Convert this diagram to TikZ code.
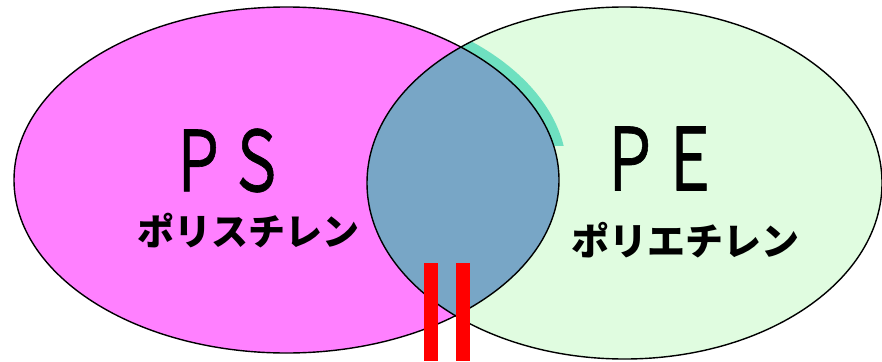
\documentclass[tikz,border=0pt]{standalone}
\usepackage{fontspec}
\newfontfamily\jp{Noto Sans CJK JP}
\newfontfamily\jpm{Noto Sans CJK JP}[FakeBold=0.8]
\definecolor{psfill}{HTML}{FF80FF}
\definecolor{pefill}{HTML}{E0FCE0}
\definecolor{lensfill}{HTML}{78A6C6}
\definecolor{tealfill}{HTML}{6EE0C0}
\tikzset{
  outline/.style={draw=black, line width=1.4pt},
  bigtxt/.style={inner sep=0pt, font=\jpm},
  kana/.style={inner sep=0pt, font=\jp\bfseries},
  bar/.style={fill=red, draw=none}
}
\begin{document}
\begin{tikzpicture}[x=1pt,y=-1pt]
\useasboundingbox (0,0) rectangle (882,361);
\fill[white] (0,0) rectangle (882,361);
% ellipses fills
\fill[psfill] (286.5,180) ellipse [x radius=272.5pt, y radius=173pt];
\fill[pefill] (624.5,183) ellipse [x radius=257.5pt, y radius=176pt];
% teal sliver (shifted lens, upper right)
\begin{scope}
  \clip (624.5,183) ellipse [x radius=257.5pt, y radius=176pt];
  \clip (440,0) rectangle (600,145);
  \clip (294.5,173) ellipse [x radius=272.5pt, y radius=173pt];
  \fill[tealfill] (632.5,176) ellipse [x radius=257.5pt, y radius=176pt];
\end{scope}
% lens
\begin{scope}
  \clip (286.5,180) ellipse [x radius=272.5pt, y radius=173pt];
  \fill[lensfill] (624.5,183) ellipse [x radius=257.5pt, y radius=176pt];
\end{scope}
% outlines
\draw[outline] (286.5,180) ellipse [x radius=272.5pt, y radius=173pt];
\draw[outline] (624.5,183) ellipse [x radius=257.5pt, y radius=176pt];
% labels
\node[bigtxt] (ps) at (227.5,160.5) {\scalebox{1}[1.45]{\fontsize{58}{58}\selectfont ＰＳ}};
\node[bigtxt] (pe) at (660,158.5) {\scalebox{1}[1.45]{\fontsize{60}{60}\selectfont ＰＥ}};
\node[kana] (psk) at (248.5,231) {\fontsize{37}{37}\selectfont ポリスチレン};
\node[kana] (pek) at (685,240.5) {\fontsize{38}{38}\selectfont ポリエチレン};
% equals sign bars
\fill[bar] (424,263) rectangle (437.5,361);
\fill[bar] (456,263) rectangle (470,361);
\end{tikzpicture}
\end{document}
